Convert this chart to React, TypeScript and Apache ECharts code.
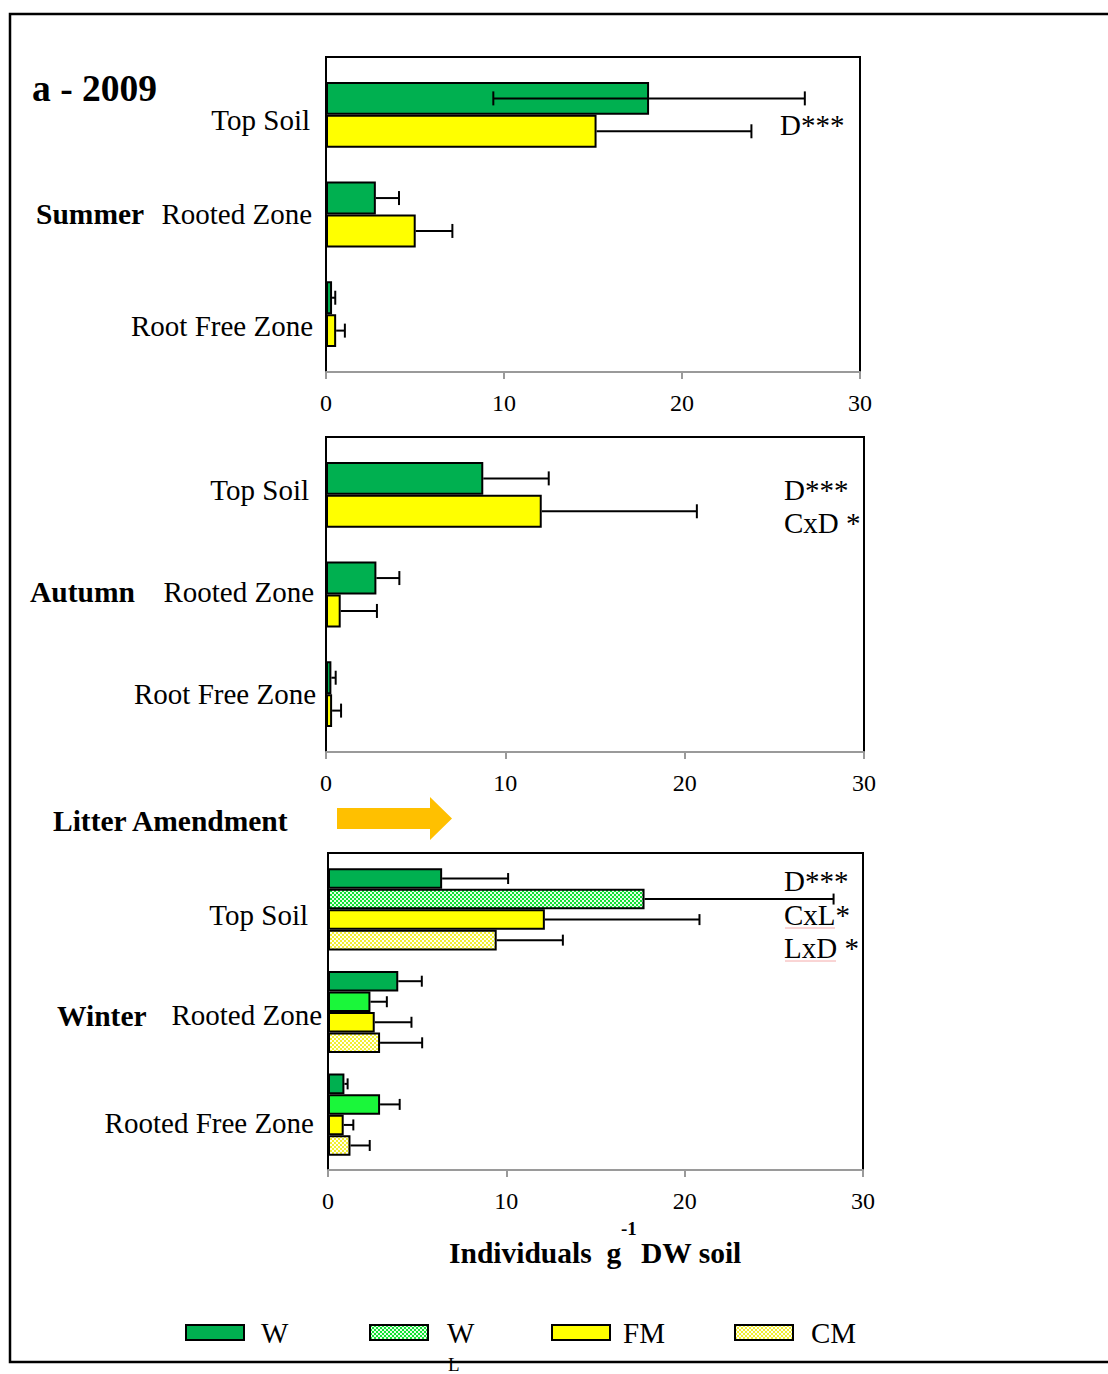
import React, { useEffect, useRef } from 'react';
import * as echarts from 'echarts';

const FONT = '"Liberation Serif", "Times New Roman", serif';

// categories
const zonesSummer = ['Top Soil', 'Rooted Zone', 'Root Free Zone'];
const zonesAutumn = ['Top Soil', 'Rooted Zone', 'Root Free Zone'];
const zonesWinter = ['Top Soil', 'Rooted Zone', 'Rooted Free Zone'];
const xMin = 0;
const xMax = 30;
const xStep = 10;

// Summer (mean, upper end of error bar, lower end if drawn)
const summerW = [18.15, 2.8, 0.34];
const summerWUp = [26.9, 4.1, 0.52];
const summerWLow = [9.4, null, null];
const summerFM = [15.2, 5.04, 0.57];
const summerFMUp = [23.9, 7.1, 1.06];

// Autumn
const autumnW = [8.77, 2.81, 0.3];
const autumnWUp = [12.42, 4.09, 0.54];
const autumnFM = [12.03, 0.82, 0.34];
const autumnFMUp = [20.68, 2.84, 0.84];

// Winter
const winterW = [6.4, 3.94, 0.92];
const winterWUp = [10.1, 5.26, 1.1];
const winterWL = [17.75, 2.38, 2.92];
const winterWLUp = [28.35, 3.3, 4.02];
const winterFM = [12.16, 2.62, 0.88];
const winterFMUp = [20.83, 4.68, 1.42];
const winterCM = [9.46, 2.92, 1.26];
const winterCMUp = [13.17, 5.28, 2.34];

const legendNames = ['W', 'WL', 'FM', 'CM'];
const legendLabels = ['W', 'W', 'FM', 'CM'];

function checker(c1: string, c2: string) {
  const cv = document.createElement('canvas');
  cv.width = 4;
  cv.height = 4;
  const ctx = cv.getContext('2d')!;
  ctx.fillStyle = c2;
  ctx.fillRect(0, 0, 4, 4);
  ctx.fillStyle = c1;
  ctx.fillRect(0, 0, 2, 2);
  ctx.fillRect(2, 2, 2, 2);
  return { image: cv.toDataURL(), repeat: 'repeat', imageWidth: 4, imageHeight: 4 } as any;
}

const errRender = (n: number, frac: number, i: number, cap: number) => (params: any, api: any) => {
  const mean = api.value(0);
  const cat = api.value(1);
  const up = api.value(2);
  const lo = api.value(3);
  const band = api.size([0, 1])[1];
  const bw = band * frac;
  const p = api.coord([mean, cat]);
  const y = p[1] + (i - (n - 1) / 2) * bw;
  const xu = api.coord([up, cat])[0];
  const ls = { stroke: '#000', lineWidth: 2 };
  const children: any[] = [
    { type: 'line', shape: { x1: p[0], y1: y, x2: xu, y2: y }, style: ls },
    { type: 'line', shape: { x1: xu, y1: y - cap, x2: xu, y2: y + cap }, style: ls },
  ];
  if (lo != null && isFinite(lo)) {
    const xl = api.coord([lo, cat])[0];
    children.push({ type: 'line', shape: { x1: xl, y1: y, x2: p[0], y2: y }, style: ls });
    children.push({ type: 'line', shape: { x1: xl, y1: y - cap, x2: xl, y2: y + cap }, style: ls });
  }
  return { type: 'group', children };
};

const errData = (means: number[], ups: number[], lows?: (number | null)[]) =>
  means.map((m, k) => [m, k, ups[k], lows && lows[k] != null ? lows[k] : NaN]);

// layout of the three panels
const panels = [
  { left: 326, width: 534, top: 65, height: 299, frameTop: 57, frameBottom: 372, offset: 8, margin: 13, dx: [3, 1, 0], dy: [5, -1, 12] },
  { left: 326, width: 538, top: 445, height: 299, frameTop: 437, frameBottom: 752, offset: 8, margin: 10, dx: [7, 2, 0], dy: [-5, -3, 0] },
  { left: 328, width: 535, top: 858, height: 308, frameTop: 853, frameBottom: 1170, offset: 4, margin: 6, dx: [14, 0, 8], dy: [6, 3, 8] },
];
const legendLefts = [185, 369, 551, 734];
const legendTextGaps = [12, 14, 8, 13];

const txt = (text: string, x: number, y: number, size: number, bold = false, align = 'left') => ({
  type: 'text',
  x,
  y,
  silent: true,
  style: {
    text,
    fill: '#000',
    fontSize: size,
    fontFamily: FONT,
    fontWeight: bold ? 'bold' : 'normal',
    align,
    verticalAlign: 'middle',
  },
});

export default function App() {
  const ref = useRef<HTMLDivElement>(null);
  useEffect(() => {
    const chart = echarts.init(ref.current!, null, { renderer: 'svg' });
    const wlPattern = checker('#10E034', '#E4FFE4');
    const cmPattern = checker('#F2EE30', '#FFFFF0');
    const green = '#00B050';
    const yellow = '#FFFF00';
    const brightGreen = '#1AF73A';
    const border = { borderColor: '#000', borderWidth: 2 };

    const cats = [zonesSummer, zonesAutumn, zonesWinter];

    const grids = panels.map((p) => ({ left: p.left, width: p.width, top: p.top, height: p.height }));
    const xAxes = panels.map((p, gi) => ({
      type: 'value',
      gridIndex: gi,
      min: xMin,
      max: xMax,
      interval: xStep,
      offset: p.offset,
      axisLine: { show: true, lineStyle: { color: '#9a9a9a', width: 2 } },
      axisTick: { show: true, length: 7, lineStyle: { color: '#9a9a9a', width: 2 } },
      splitLine: { show: false },
      axisLabel: { fontSize: 24, fontFamily: FONT, color: '#000', margin: 19 },
    }));
    const yAxes = panels.map((p, gi) => {
      const rich: any = {};
      for (let k = 0; k < 3; k++) {
        const d = p.dy[k];
        rich['r' + k] = {
          fontSize: 29,
          fontFamily: FONT,
          color: '#000',
          padding: [d > 0 ? 2 * d : 0, p.dx[k], d < 0 ? -2 * d : 0, 0],
        };
      }
      return {
        type: 'category',
        gridIndex: gi,
        inverse: true,
        data: cats[gi],
        axisLine: { show: false },
        axisTick: { show: false },
        axisLabel: {
          margin: p.margin,
          fontSize: 29,
          fontFamily: FONT,
          color: '#000',
          formatter: (v: string, i: number) => '{r' + i + '|' + v + '}',
          rich,
        },
      };
    });

    const bar = (name: string, gi: number, data: any[], color: any, gap: string) => ({
      type: 'bar',
      name,
      xAxisIndex: gi,
      yAxisIndex: gi,
      data,
      barGap: '0%',
      barCategoryGap: gap,
      silent: true,
      z: 2,
      itemStyle: { color, ...border },
    });
    const err = (name: string, gi: number, data: any[], n: number, frac: number, i: number, cap: number) => ({
      type: 'custom',
      name,
      xAxisIndex: gi,
      yAxisIndex: gi,
      data,
      silent: true,
      z: 5,
      encode: { x: 0, y: 1 },
      renderItem: errRender(n, frac, i, cap),
    });

    const series: any[] = [
      bar('W', 0, summerW, green, '34%'),
      bar('FM', 0, summerFM, yellow, '34%'),
      bar('W', 1, autumnW, green, '34%'),
      bar('FM', 1, autumnFM, yellow, '34%'),
      bar('W', 2, winterW, green, '20%'),
      bar('WL', 2, winterWL.map((v, k) => (k === 0 ? v : { value: v, itemStyle: { color: brightGreen } })), wlPattern, '20%'),
      bar('FM', 2, winterFM, yellow, '20%'),
      bar('CM', 2, winterCM, cmPattern, '20%'),
      err('e1', 0, errData(summerW, summerWUp, summerWLow), 2, 0.33, 0, 7),
      err('e2', 0, errData(summerFM, summerFMUp), 2, 0.33, 1, 7),
      err('e3', 1, errData(autumnW, autumnWUp), 2, 0.33, 0, 7),
      err('e4', 1, errData(autumnFM, autumnFMUp), 2, 0.33, 1, 7),
      err('e5', 2, errData(winterW, winterWUp), 4, 0.2, 0, 5.5),
      err('e6', 2, errData(winterWL, winterWLUp), 4, 0.2, 1, 5.5),
      err('e7', 2, errData(winterFM, winterFMUp), 4, 0.2, 2, 5.5),
      err('e8', 2, errData(winterCM, winterCMUp), 4, 0.2, 3, 5.5),
    ];

    const legends = legendNames.map((n, i) => ({
      data: [n],
      left: legendLefts[i],
      top: 1318,
      padding: 0,
      itemWidth: 58,
      itemHeight: 15,
      selectedMode: false,
      icon: 'rect',
      formatter: () => '{t|' + legendLabels[i] + '}',
      textStyle: {
        fontSize: 29,
        fontFamily: FONT,
        color: '#000',
        rich: { t: { fontSize: 29, fontFamily: FONT, color: '#000', padding: [0, 0, 0, legendTextGaps[i]] } },
      },
    }));

    const frames = panels.map((p) => ({
      type: 'polyline',
      silent: true,
      shape: {
        points: [
          [p.left, p.frameBottom],
          [p.left, p.frameTop],
          [p.left + p.width, p.frameTop],
          [p.left + p.width, p.frameBottom],
        ],
      },
      style: { stroke: '#000', lineWidth: 2, fill: 'none' },
    }));

    const graphic: any[] = [
      {
        type: 'rect',
        silent: true,
        shape: { x: 10, y: 14, width: 1120, height: 1348 },
        style: { fill: 'none', stroke: '#000', lineWidth: 2.5 },
      },
      ...frames,
      txt('a - 2009', 32, 88, 37.5, true),
      txt('Summer', 36, 214, 29.5, true),
      txt('Autumn', 30, 592, 29.5, true),
      txt('Winter', 57, 1016, 29.5, true),
      txt('Litter Amendment', 53, 821, 29.5, true),
      txt('D***', 780, 125, 29),
      txt('D***', 784, 490, 29),
      txt('CxD *', 784, 523, 29),
      txt('D***', 784, 881, 29),
      txt('CxL*', 784, 915, 29),
      txt('LxD *', 784, 948, 29),
      txt('Individuals  g', 449, 1253, 29.5, true),
      txt('-1', 621, 1228, 19, true),
      txt('DW soil', 641, 1253, 29.5, true),
      txt('L', 448, 1364, 19),
      {
        type: 'line',
        silent: true,
        shape: { x1: 785, y1: 928, x2: 835, y2: 928 },
        style: { stroke: '#F4AAAA', lineWidth: 1 },
      },
      {
        type: 'line',
        silent: true,
        shape: { x1: 785, y1: 961, x2: 836, y2: 961 },
        style: { stroke: '#F4AAAA', lineWidth: 1 },
      },
      {
        type: 'polygon',
        silent: true,
        shape: {
          points: [
            [337, 808],
            [430, 808],
            [430, 797],
            [452, 818.5],
            [430, 840],
            [430, 829],
            [337, 829],
          ],
        },
        style: { fill: '#FFC000' },
      },
    ];

    chart.setOption({
      animation: false,
      backgroundColor: '#fff',
      grid: grids,
      xAxis: xAxes,
      yAxis: yAxes,
      series,
      legend: legends,
      graphic,
    });
    return () => chart.dispose();
  }, []);
  return <div ref={ref} style={{ position: 'absolute', left: 0, top: 0, width: 1108, height: 1374 }} />;
}
